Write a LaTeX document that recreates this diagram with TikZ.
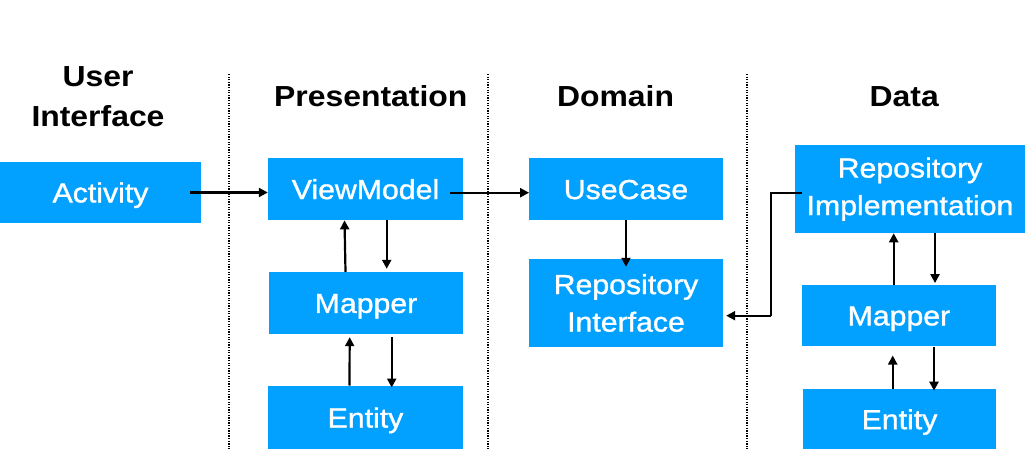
\documentclass[tikz,border=0pt]{standalone}
\usepackage{fontspec}
\setmainfont{Liberation Sans}
\newfontfamily\boxfont[FakeStretch=1.1,FakeBold=1.2]{Liberation Sans}
\newfontfamily\headfont[FakeStretch=1.1]{Liberation Sans}
\usetikzlibrary{arrows.meta}
\definecolor{boxblue}{RGB}{3,161,255}
\tikzset{
  box/.style={fill=boxblue, inner sep=0pt, text=white, align=center,
    font=\boxfont\fontsize{27.5}{37.5}\selectfont},
  oneline/.style={text height=19.7pt, text depth=0pt},
  head/.style={inner sep=0pt, font=\headfont\bfseries\fontsize{29}{39.4}\selectfont, align=center},
  arr/.style={line width=2.2pt, -{Triangle[length=9pt,width=9pt]}},
  sep/.style={line width=1.7pt, dash pattern=on 1.3pt off 1.3pt}
}
\begin{document}
\begin{tikzpicture}[x=1pt,y=-1pt]
\useasboundingbox (0,0) rectangle (1025,449);
% separators
\draw[sep] (228.7,74) -- (228.7,449);
\draw[sep] (488.3,74) -- (488.3,449);
\draw[sep] (746.7,74) -- (746.7,449);
% headers
\node[head] (hui) at (98,96.7) {User\\Interface};
\node[head, anchor=base] (hp) at (370.8,106.7) {Presentation};
\node[head, anchor=base] (hd) at (615.5,106.7) {Domain};
\node[head, anchor=base] (hdata) at (904.2,106.7) {Data};
% boxes
\node[box, oneline, minimum width=201pt, minimum height=61pt] (act) at (100.5,192.5) {Activity};
\node[box, oneline, minimum width=195pt, minimum height=62pt] (vm) at (365.5,189.2) {ViewModel};
\node[box, oneline, minimum width=194pt, minimum height=62pt] (pmap) at (366,303) {Mapper};
\node[box, oneline, minimum width=195pt, minimum height=64pt] (pent) at (365.5,417.7) {Entity};
\node[box, oneline, minimum width=193.4pt, minimum height=62pt] (uc) at (626,189.2) {UseCase};
\node[box, minimum width=193.4pt, minimum height=87.4pt] (ri) at (626,303) {Repository\\Interface};
\node[box, minimum width=230pt, minimum height=87.7pt] (rimpl) at (910,189.2) {Repository\\Implementation};
\node[box, oneline, minimum width=193.7pt, minimum height=61.6pt] (dmap) at (898.9,315.5) {Mapper};
\node[box, oneline, minimum width=193.6pt, minimum height=60pt] (dent) at (899.5,419.3) {Entity};
% connectors
\draw[arr] ([xshift=-11pt]act.east) -- ([yshift=-3.3pt]vm.west);
\draw[arr] ([xshift=-13.7pt,yshift=-3.5pt]vm.east) -- ([yshift=-3.5pt]uc.west);
\draw[arr] ([xshift=-20.5pt]pmap.north) -- ([xshift=-21pt]vm.south);
\draw[arr] ([xshift=21.2pt]vm.south) -- ([xshift=20.7pt,yshift=3pt]pmap.north);
\draw[arr] ([xshift=-16pt]pent.north) -- ([xshift=-16.3pt,yshift=-3pt]pmap.south);
\draw[arr] ([xshift=25.7pt,yshift=-3pt]pmap.south) -- ([xshift=26.2pt,yshift=-2pt]pent.north);
\draw[arr] (uc.south) -- ([yshift=-7.7pt]ri.north);
\coordinate (bend) at (770.7,315.7);
\draw[line width=2.2pt] ([xshift=6.7pt,yshift=-3.5pt]rimpl.west) -| (bend);
\draw[arr] (bend) -- ([xshift=3.3pt,yshift=-12.7pt]ri.east);
\draw[arr] ([xshift=-5.2pt]dmap.north) -- ([xshift=-16.3pt]rimpl.south);
\draw[arr] ([xshift=25pt]rimpl.south) -- ([xshift=36.1pt,yshift=1.4pt]dmap.north);
\draw[arr] ([xshift=-6.8pt]dent.north) -- ([xshift=-6.2pt,yshift=-9pt]dmap.south);
\draw[arr] ([xshift=35.1pt]dmap.south) -- ([xshift=34.5pt,yshift=-1.6pt]dent.north);
\end{tikzpicture}
\end{document}
